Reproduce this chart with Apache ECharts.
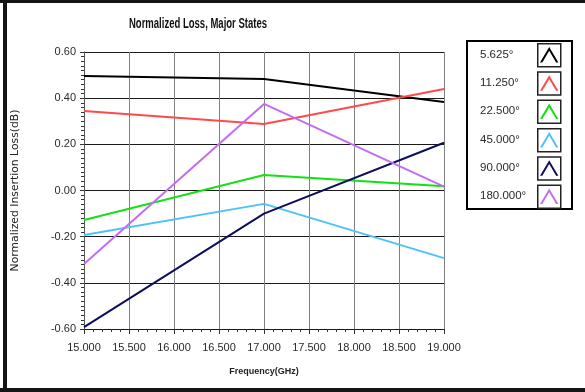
<!DOCTYPE html>
<html>
<head>
<meta charset="utf-8">
<script src="https://cdn.jsdelivr.net/npm/echarts@6/dist/echarts.min.js"></script>
<style>
  html, body { margin: 0; padding: 0; background: #fff; }
  #chart { width: 585px; height: 392px; }
</style>
</head>
<body>
<div id="chart"></div>
<script>
// Frequency sample points (GHz)
const freqs = [15.0, 17.0, 19.0];

// Normalized insertion loss (dB) for each phase state
const state5625 = [0.496, 0.483, 0.383];
const state11250 = [0.344, 0.288, 0.440];
const state22500 = [-0.128, 0.067, 0.018];
const state45000 = [-0.193, -0.058, -0.293];
const state90000 = [-0.592, -0.100, 0.207];
const state180000 = [-0.318, 0.375, 0.017];

const stateNames = ['5.625°', '11.250°', '22.500°', '45.000°', '90.000°', '180.000°'];
const stateValues = [state5625, state11250, state22500, state45000, state90000, state180000];
const stateColors = ['#000000', '#ff4a4a', '#14e014', '#4fc1fa', '#0d0d5c', '#c46cf2'];

const chevron = 'path://M0,160 L95,0 L190,160 L166,160 L95,40 L24,160 Z';

const series = stateNames.map((name, i) => ({
  name: name,
  type: 'line',
  data: freqs.map((f, j) => [f, stateValues[i][j]]),
  symbol: 'none',
  color: stateColors[i],
  lineStyle: { width: 2, color: stateColors[i] },
  silent: true
}));

const tinyText = { fontSize: 1, lineHeight: 1, padding: 0 };

const chart = echarts.init(document.getElementById('chart'), null, { renderer: 'canvas' });

chart.setOption({
  animation: false,
  backgroundColor: '#ffffff',
  grid: { left: 84, right: 141, top: 52, bottom: 63 },
  xAxis: {
    type: 'value',
    min: 15,
    max: 19,
    interval: 0.5,
    name: 'Frequency(GHz)',
    nameLocation: 'middle',
    nameGap: 38,
    nameTextStyle: {
      fontFamily: '"Liberation Sans", Arial, sans-serif',
      fontWeight: 'bold',
      fontSize: 9,
      color: '#222'
    },
    axisLine: { show: true, onZero: false, lineStyle: { color: '#1a1a1a', width: 1 } },
    axisTick: { show: true, inside: false, length: 5, lineStyle: { color: '#333' } },
    minorTick: { show: true, splitNumber: 5, length: 3, lineStyle: { color: '#333' } },
    splitLine: { show: true, lineStyle: { color: '#808080', width: 1 } },
    axisLabel: {
      margin: 13,
      fontFamily: '"Liberation Sans", Arial, sans-serif',
      fontSize: 11,
      color: '#2a2a2a',
      formatter: v => v.toFixed(3)
    }
  },
  yAxis: {
    type: 'value',
    min: -0.6,
    max: 0.6,
    interval: 0.2,
    name: 'Normalized Insertion Loss(dB)',
    nameLocation: 'middle',
    nameGap: 63,
    nameTextStyle: {
      fontFamily: '"DejaVu Sans", sans-serif',
      fontSize: 10.8,
      color: '#222'
    },
    axisLine: { show: true, onZero: false, lineStyle: { color: '#555', width: 1 } },
    axisTick: { show: true, inside: false, length: 4, lineStyle: { color: '#333' } },
    minorTick: { show: true, splitNumber: 10, length: 3, lineStyle: { color: '#333' } },
    splitLine: { show: true, lineStyle: { color: '#1a1a1a', width: 1 } },
    axisLabel: {
      margin: 8,
      fontFamily: '"Liberation Sans", Arial, sans-serif',
      fontSize: 11,
      color: '#2a2a2a',
      formatter: v => v.toFixed(2)
    }
  },
  legend: [
    {
      // state labels
      orient: 'vertical',
      left: 474,
      top: 43,
      padding: 0,
      itemWidth: 1,
      itemHeight: 23,
      itemGap: 5.3,
      selectedMode: false,
      data: stateNames.map(n => ({ name: n, icon: 'rect' })),
      itemStyle: { color: 'rgba(0,0,0,0)', borderWidth: 0 },
      textStyle: {
        fontFamily: '"Liberation Sans", Arial, sans-serif',
        fontSize: 11.5,
        color: '#2a2a2a',
        padding: 0
      }
    },
    {
      // swatch boxes
      orient: 'vertical',
      left: 537,
      top: 43,
      padding: 0,
      itemWidth: 23,
      itemHeight: 23,
      itemGap: 3.8,
      selectedMode: false,
      formatter: () => '',
      textStyle: tinyText,
      data: stateNames.map(n => ({ name: n, icon: 'rect' })),
      itemStyle: { color: 'rgba(0,0,0,0)', borderColor: '#222', borderWidth: 1.5 }
    },
    {
      // chevron marks in series colour
      orient: 'vertical',
      left: 540,
      top: 47,
      padding: 0,
      itemWidth: 18.4,
      itemHeight: 15.5,
      itemGap: 12.8,
      selectedMode: false,
      formatter: () => '',
      textStyle: tinyText,
      data: stateNames.map(n => ({ name: n, icon: chevron })),
      itemStyle: { borderWidth: 0 }
    }
  ],
  graphic: [
    { type: 'rect', shape: { x: 0, y: 0, width: 585, height: 3 }, style: { fill: '#151515' }, silent: true },
    { type: 'rect', shape: { x: 3, y: 0, width: 4, height: 392 }, style: { fill: '#151515' }, silent: true },
    { type: 'rect', shape: { x: 0, y: 388, width: 585, height: 4 }, style: { fill: '#151515' }, silent: true },
    { type: 'rect', shape: { x: 467, y: 41, width: 105, height: 168 }, style: { fill: 'none', stroke: '#000', lineWidth: 2 }, silent: true },
    {
      // chart title, drawn condensed
      type: 'text',
      x: 198,
      y: 24,
      scaleX: 0.68,
      style: {
        text: 'Normalized Loss, Major States',
        fill: '#111',
        font: 'bold 14px "Liberation Sans", Arial, sans-serif',
        align: 'center',
        verticalAlign: 'middle'
      },
      silent: true
    }
  ],
  series: series
});
</script>
</body>
</html>
